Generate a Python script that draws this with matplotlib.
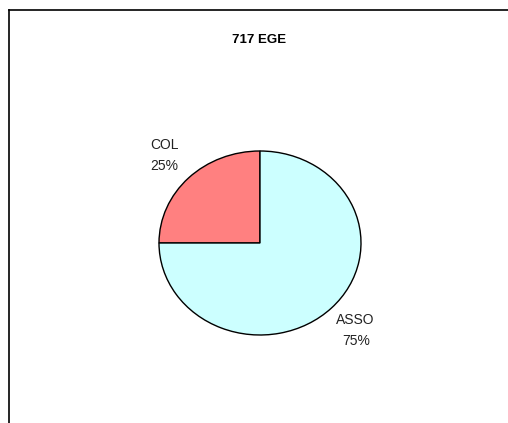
import matplotlib
matplotlib.use('Agg')
import matplotlib.pyplot as plt
from matplotlib.lines import Line2D

# ---   DATA   --- #
categories = ['COL', 'ASSO']
shares = [25, 75]
colors = ['#FF8080', '#CCFFFF']
title = '717 EGE'

plt.rcParams['font.family'] = ['Liberation Sans', 'DejaVu Sans']

W, H = 508, 423
fig = plt.figure(figsize=(W / 100, H / 100), dpi=100)

# pie drawn into an axes stretched to the elliptical shape
ax = fig.add_axes([159 / W, (H - 335) / H, 202 / W, 184 / H])
labels = ['%s\n%d%%' % (c, s) for c, s in zip(categories, shares)]
wedges, texts = ax.pie(
    shares, labels=labels, colors=colors, startangle=90, counterclock=True,
    labeldistance=1.34, wedgeprops=dict(edgecolor='black', linewidth=1.0),
    textprops=dict(fontsize=10, color='#222222', linespacing=1.65),
)
for t in texts:
    t.set_ha('center')
    t.set_va('center')
    t.set_multialignment('center')
ax.set_aspect('auto')
ax.set_xlim(-1, 1)
ax.set_ylim(-1, 1)
ax.axis('off')

fig.text(259 / W, 1 - 40 / H, title, ha='center', va='center',
         fontsize=9.5, fontweight='bold', color='black')

# frame lines (top and left)
fig.add_artist(Line2D([8.5 / W, 1], [1 - 10.5 / H] * 2, color='black', lw=1.2,
                      transform=fig.transFigure))
fig.add_artist(Line2D([8.5 / W] * 2, [0, 1 - 10.5 / H], color='black', lw=1.2,
                      transform=fig.transFigure))

fig.savefig('out.png', dpi=100)
